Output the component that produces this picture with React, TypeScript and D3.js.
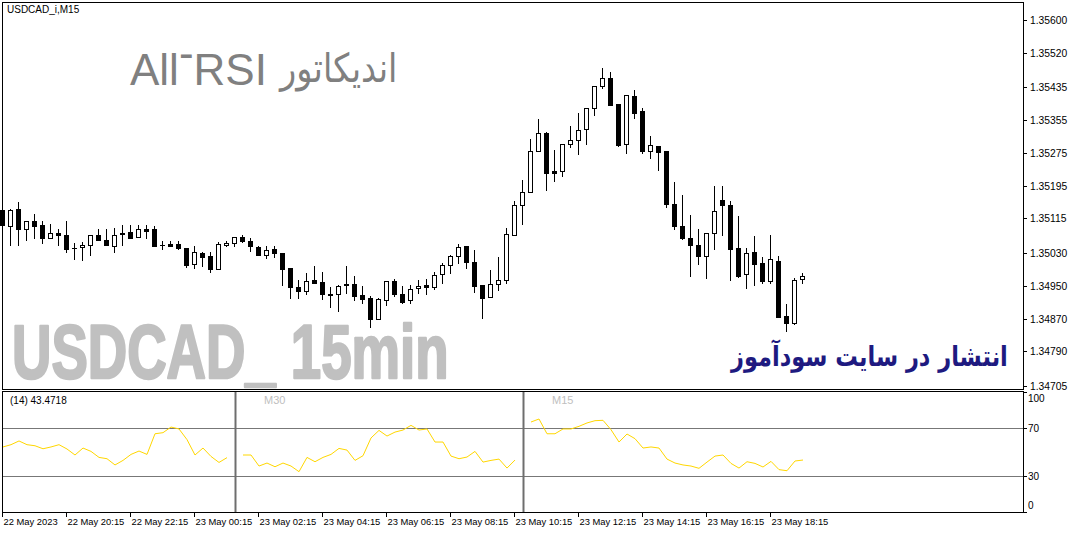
import * as d3 from "d3";

// bar 0 = 22 May 18:15, one bar every 15 minutes
const opens = [
  1.35135, 1.35096, 1.35138, 1.35089, 1.35109, 1.35099, 1.35067, 1.35079, 1.35074, 1.35043,
  1.35045, 1.3505, 1.35074, 1.35062, 1.35047, 1.35079, 1.35082, 1.35069, 1.35089, 1.35089,
  1.3505, 1.35052, 1.35052, 1.35043, 1.35003, 1.3503, 1.35023, 1.34991, 1.3505, 1.35055,
  1.35069, 1.3506, 1.35045, 1.35025, 1.3504, 1.3503, 1.34994, 1.34947, 1.34937, 1.34964,
  1.34959, 1.3493, 1.3493, 1.34955, 1.34955, 1.34928, 1.3492, 1.34869, 1.34915, 1.34962,
  1.3493, 1.34915, 1.34945, 1.34952, 1.34947, 1.34979, 1.35001, 1.35023, 1.35047, 1.35008,
  1.34952, 1.34923, 1.34955, 1.34964, 1.35074, 1.35148, 1.35179, 1.3528, 1.35324, 1.35231,
  1.35231, 1.35297, 1.35307, 1.35333, 1.35385, 1.35439, 1.35458, 1.35395, 1.35297, 1.35414,
  1.35377, 1.3528, 1.35292, 1.3528, 1.3515, 1.35096, 1.35067, 1.3505, 1.35023, 1.35079,
  1.3516, 1.35148, 1.35043, 1.34979, 1.35033, 1.35006, 1.34962, 1.35011, 1.34876, 1.34859,
  1.34967,
];
const highs = [
  1.35153, 1.35138, 1.35155, 1.35109, 1.35126, 1.35109, 1.35101, 1.35089, 1.35109, 1.35055,
  1.35057, 1.35074, 1.35089, 1.35089, 1.35091, 1.35099, 1.35099, 1.35099, 1.35099, 1.35096,
  1.3506, 1.3506, 1.3506, 1.35043, 1.35047, 1.35033, 1.35033, 1.35057, 1.3506, 1.35069,
  1.35074, 1.35067, 1.35047, 1.35047, 1.35047, 1.3503, 1.34994, 1.34964, 1.34981, 1.34999,
  1.34984, 1.34947, 1.34952, 1.34999, 1.34974, 1.3495, 1.34925, 1.3492, 1.34962, 1.34967,
  1.3495, 1.34952, 1.34964, 1.34967, 1.34984, 1.35006, 1.35025, 1.35052, 1.35047, 1.35038,
  1.34952, 1.34989, 1.35021, 1.35091, 1.35157, 1.35209, 1.35309, 1.35358, 1.35326, 1.35282,
  1.35297, 1.35341, 1.35373, 1.35385, 1.35439, 1.35483, 1.35473, 1.35395, 1.35417, 1.35429,
  1.35385, 1.35316, 1.35292, 1.3528, 1.35204, 1.35172, 1.35123, 1.35089, 1.35079, 1.35194,
  1.35194, 1.35157, 1.35121, 1.35043, 1.35072, 1.35021, 1.35074, 1.35023, 1.34906, 1.34969,
  1.34981,
];
const lows = [
  1.35079, 1.3505, 1.3505, 1.35062, 1.35067, 1.35055, 1.35067, 1.3505, 1.35033, 1.35016,
  1.35013, 1.35025, 1.35062, 1.3505, 1.35033, 1.3505, 1.35067, 1.35069, 1.35067, 1.35047,
  1.3504, 1.35047, 1.3504, 1.34996, 1.34994, 1.34999, 1.34984, 1.34991, 1.35047, 1.35047,
  1.35057, 1.35035, 1.35025, 1.35018, 1.35021, 1.34952, 1.3492, 1.3492, 1.3493, 1.34957,
  1.34918, 1.34898, 1.34889, 1.34933, 1.34915, 1.34908, 1.34849, 1.34869, 1.34903, 1.34925,
  1.34908, 1.34908, 1.34933, 1.3493, 1.34942, 1.34957, 1.34981, 1.35006, 1.34994, 1.34935,
  1.34871, 1.34923, 1.3494, 1.34957, 1.35074, 1.35101, 1.35179, 1.3528, 1.35184, 1.35206,
  1.35219, 1.35289, 1.35272, 1.35297, 1.35368, 1.35434, 1.35392, 1.35292, 1.35275, 1.3536,
  1.35275, 1.35263, 1.35233, 1.35143, 1.35089, 1.35065, 1.34974, 1.35003, 1.34969, 1.3504,
  1.35074, 1.34964, 1.34972, 1.34945, 1.34952, 1.34957, 1.34957, 1.34874, 1.3484, 1.34857,
  1.34957,
];
const closes = [
  1.35099, 1.35135, 1.35089, 1.35109, 1.35096, 1.35067, 1.35079, 1.35074, 1.3504, 1.35042,
  1.3505, 1.35074, 1.35062, 1.3505, 1.35074, 1.35077, 1.35067, 1.35089, 1.35084, 1.35047,
  1.3505, 1.35047, 1.35043, 1.35001, 1.35033, 1.35021, 1.34991, 1.35052, 1.35055, 1.35069,
  1.3506, 1.35047, 1.35025, 1.35038, 1.3503, 1.34991, 1.34947, 1.34937, 1.34962, 1.34957,
  1.3493, 1.34928, 1.3495, 1.34952, 1.34925, 1.34918, 1.34869, 1.34918, 1.34962, 1.3493,
  1.34911, 1.34942, 1.3495, 1.34947, 1.34977, 1.35001, 1.35023, 1.35045, 1.35008, 1.3495,
  1.3492, 1.34955, 1.34964, 1.35077, 1.35148, 1.35179, 1.3528, 1.35324, 1.35226, 1.35226,
  1.35297, 1.35307, 1.35331, 1.35385, 1.35439, 1.35458, 1.35392, 1.35294, 1.35417, 1.35373,
  1.3528, 1.35294, 1.35277, 1.3515, 1.35096, 1.35067, 1.3505, 1.35023, 1.35079, 1.35133,
  1.35148, 1.3504, 1.34974, 1.3503, 1.35003, 1.34962, 1.35016, 1.34874, 1.34859, 1.34964,
  1.34974,
];

const priceTicks = [1.356, 1.3552, 1.35435, 1.35355, 1.35275, 1.35195, 1.35115, 1.3503, 1.3495, 1.3487, 1.3479, 1.34705];
const priceDomain = [1.346977, 1.356416];

// All-RSI: three timeframe blocks, each starting at a bar index
const rsiBlocks = [
  { label: "", start: 0, values: [54.2, 56.1, 59.2, 56.1, 55.2, 52.7, 54.2, 56.1, 52.5, 47.5, 53.3, 50.5, 45.5, 44.4, 39.2, 43.0, 48.0, 50.8, 48.0, 65.2, 66.1, 70.8, 69.2, 60.3, 47.5, 53.3, 46.3, 41.3, 45.3] },
  { label: "M30", start: 30, values: [47.5, 47.5, 38.3, 40.8, 37.7, 40.8, 38.3, 33.6, 45.5, 41.9, 45.5, 48.0, 53.0, 51.6, 43.0, 46.9, 61.7, 68.0, 63.3, 66.6, 68.3, 72.2, 68.3, 69.2, 58.3, 58.3, 46.6, 44.4, 45.8, 50.5, 41.6, 43.0, 44.1, 36.6, 43.3] },
  { label: "M15", start: 66, values: [75.0, 77.5, 65.2, 65.2, 69.2, 69.2, 71.4, 74.2, 76.1, 76.4, 68.6, 58.3, 65.0, 61.1, 53.3, 54.2, 53.3, 44.1, 40.8, 39.2, 38.3, 36.4, 41.6, 46.6, 47.5, 40.5, 36.6, 41.9, 40.5, 37.5, 42.2, 35.3, 34.4, 42.5, 43.3] },
];
const rsiSeparators = [29, 65];
const rsiLevels = [70, 30];
const rsiTicks = [100, 70, 30, 0];

const timeLabels = [
  "22 May 2023", "22 May 20:15", "22 May 22:15", "23 May 00:15", "23 May 02:15", "23 May 04:15",
  "23 May 06:15", "23 May 08:15", "23 May 10:15", "23 May 12:15", "23 May 14:15", "23 May 16:15", "23 May 18:15",
];
const barsPerLabel = 8;

const FONT = "Liberation Sans, Arial, DejaVu Sans, sans-serif";

export default function App() {
  const width = 1069;
  const height = 533;
  const main = { left: 2, right: 1023, top: 2, bottom: 389 };
  const sub = { top: 391, bottom: 512 };

  const x = d3.scaleLinear().domain([0, 100]).range([2, 802]);
  const y = d3.scaleLinear().domain(priceDomain).range([main.bottom, main.top + 1]);
  const yr = d3.scaleLinear().domain([0, 100]).range([sub.bottom, sub.top + 1]);

  const rsiPath = (start: number, values: number[]) =>
    d3
      .line<number>()
      .x((_, i) => x(start + i) + 1)
      .y((d) => yr(d))(values) ?? "";

  return (
    <div style={{ position: "absolute", left: 0, top: 0 }}>
      <svg width={width} height={height} style={{ display: "block", background: "#fff" }} fontFamily={FONT}>
        <rect x={0} y={0} width={width} height={height} fill="#fff" />

        {/* price panel */}
        <rect x={main.left + 0.5} y={main.top + 0.5} width={main.right - main.left} height={main.bottom - main.top} fill="#fff" stroke="#000" />

        <text x={7} y={13} fontSize={10} fill="#000">USDCAD_i,M15</text>

        <text x={130} y={85} fontSize={44} fill="#808080">
          <tspan>All</tspan>
          <tspan dy={-17}>-</tspan>
          <tspan dy={17}>RSI</tspan>
        </text>
        <text transform="translate(280,82) scale(0.84,1)" fontSize={40} fill="#808080" fontFamily="DejaVu Sans, sans-serif">
          اندیکاتور
        </text>

        <text transform="translate(12,378) scale(0.718,1)" fontSize={76} fontWeight="bold" fill="#c0c0c0" stroke="#c0c0c0" strokeWidth={2.5} strokeLinejoin="round">
          USDCAD_ 15min
        </text>

        <text transform="translate(731,366) scale(1,1.25)" fontSize={22.5} fontWeight="bold" fill="#1e1a80" fontFamily="DejaVu Sans, sans-serif">
          انتشار در سایت سودآموز
        </text>

        {opens.map((o, i) => {
          const c = closes[i];
          const cx = Math.round(x(i)) + 0.5;
          const yTop = Math.round(y(Math.max(o, c)));
          const yBot = Math.round(y(Math.min(o, c)));
          const bull = c > o;
          return (
            <g key={i}>
              <line x1={cx} x2={cx} y1={Math.round(y(highs[i]))} y2={Math.round(y(lows[i])) + 1} stroke="#000" />
              {yBot - yTop < 1 ? (
                <line x1={cx - 2.5} x2={cx + 2.5} y1={yTop + 0.5} y2={yTop + 0.5} stroke="#000" />
              ) : (
                <rect x={cx - 2} y={yTop + 0.5} width={4} height={yBot - yTop} fill={bull ? "#fff" : "#000"} stroke="#000" />
              )}
            </g>
          );
        })}

        {/* price axis */}
        {priceTicks.map((t) => {
          const ty = Math.round(y(t)) + 0.5;
          return (
            <g key={t}>
              <line x1={main.right + 0.5} x2={main.right + 4} y1={ty} y2={ty} stroke="#000" />
              <text x={1030} y={ty + 3.5} fontSize={10.3} fill="#000">{t.toFixed(5)}</text>
            </g>
          );
        })}

        {/* RSI panel */}
        <rect x={main.left + 0.5} y={sub.top + 0.5} width={main.right - main.left} height={sub.bottom - sub.top} fill="#fff" stroke="#000" />
        {rsiLevels.map((lv) => (
          <line key={lv} x1={main.left + 1} x2={main.right} y1={Math.round(yr(lv)) + 0.5} y2={Math.round(yr(lv)) + 0.5} stroke="#777" />
        ))}
        {rsiSeparators.map((b) => (
          <line key={b} x1={x(b) + 1.5} x2={x(b) + 1.5} y1={sub.top + 1} y2={sub.bottom} stroke="#6e6e6e" strokeWidth={2} />
        ))}
        {rsiBlocks.map((blk) => (
          <g key={blk.start}>
            <path d={rsiPath(blk.start, blk.values)} fill="none" stroke="#ffd700" strokeWidth={1} />
            {blk.label && (
              <text x={x(blk.start) + 22} y={404} fontSize={11} fill="#c0c0c0">{blk.label}</text>
            )}
          </g>
        ))}
        <text x={10} y={404} fontSize={10} fill="#000">(14) 43.4718</text>
        {rsiTicks.map((t) => {
          const ty = Math.round(yr(t)) + 0.5;
          const ly = Math.min(Math.max(ty, 398), 505);
          return (
            <g key={t}>
              <line x1={main.right + 0.5} x2={main.right + 4} y1={ty} y2={ty} stroke="#000" />
              <text x={1028} y={ly + 3.5} fontSize={10} fill="#000">{t}</text>
            </g>
          );
        })}

        {/* time axis */}
        {timeLabels.map((lab, k) => {
          const tx = Math.round(x(k * barsPerLabel)) + 0.5;
          return (
            <g key={lab}>
              <line x1={tx} x2={tx} y1={sub.bottom + 0.5} y2={sub.bottom + 5} stroke="#000" />
              <text x={tx + 1} y={525} fontSize={9.4} fill="#000">{lab}</text>
            </g>
          );
        })}
      </svg>
    </div>
  );
}
